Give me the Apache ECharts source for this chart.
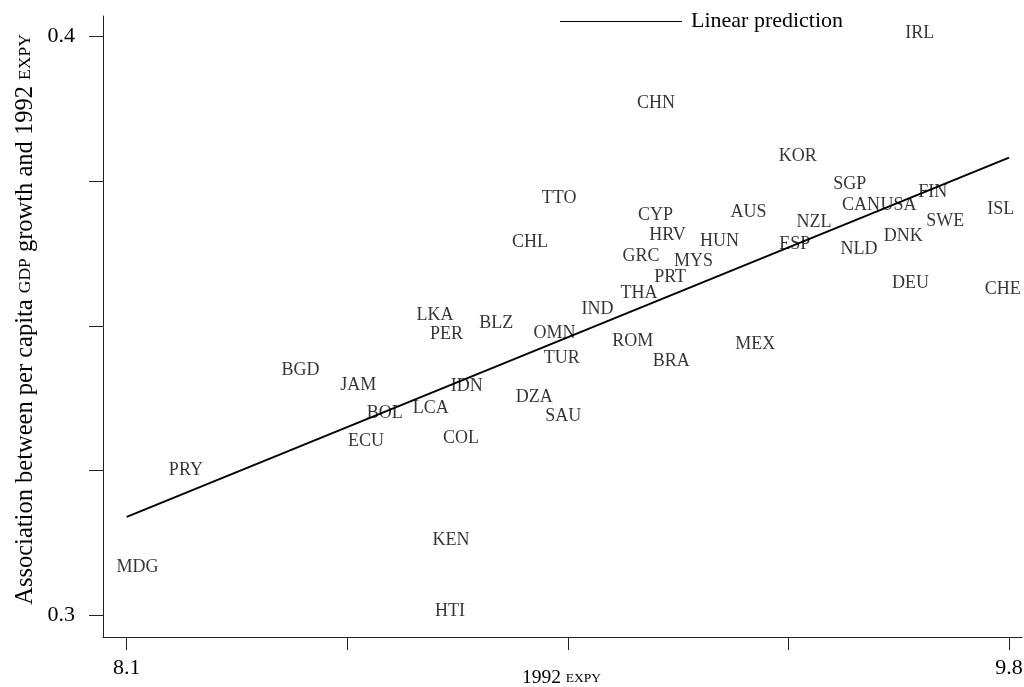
<!DOCTYPE html>
<html>
<head>
<meta charset="utf-8">
<script src="https://cdn.jsdelivr.net/npm/echarts@6/dist/echarts.min.js"></script>
<style>
html,body{margin:0;padding:0;background:#fff;}
#chart{width:1024px;height:687px;}
</style>
</head>
<body>
<div id="chart"></div>
<script>
// Country codes and values (x: 1992 EXPY, y: association coefficient)
var countries = ["IRL","CHN","KOR","SGP","FIN","TTO","CAN","USA","ISL","AUS","CYP","NZL","SWE","HRV","DNK","HUN","CHL","ESP","NLD","GRC","MYS","PRT","DEU","CHE","THA","IND","LKA","BLZ","PER","OMN","ROM","MEX","TUR","BRA","BGD","JAM","IDN","DZA","LCA","BOL","SAU","COL","ECU","PRY","KEN","MDG","HTI"];
var expy = [9.628,9.120,9.393,9.493,9.653,8.933,9.515,9.587,9.784,9.298,9.119,9.424,9.677,9.142,9.596,9.242,8.877,9.387,9.511,9.091,9.192,9.147,9.610,9.788,9.087,9.007,8.694,8.812,8.716,8.924,9.075,9.311,8.938,9.149,8.435,8.546,8.755,8.885,8.686,8.597,8.941,8.744,8.561,8.214,8.725,8.121,8.723];
var assoc = [0.4008,0.3887,0.3795,0.3747,0.3733,0.3723,0.3710,0.3710,0.3703,0.3699,0.3693,0.3681,0.3683,0.3659,0.3657,0.3648,0.3647,0.3643,0.3635,0.3623,0.3614,0.3586,0.3576,0.3566,0.3558,0.3530,0.3520,0.3507,0.3487,0.3489,0.3475,0.3471,0.3446,0.3441,0.3426,0.3399,0.3397,0.3379,0.3360,0.3351,0.3345,0.3308,0.3303,0.3253,0.3131,0.3084,0.3009];
// Linear prediction endpoints
var fitX = [8.1, 9.8];
var fitY = [0.3170, 0.3791];
// Tick values and labels
var xTicks = [8.1, 8.525, 8.95, 9.375, 9.8];
var xTickLabels = [8.1, 9.8];
var yTicks = [0.3, 0.325, 0.35, 0.375, 0.4];
var yTickLabels = [0.3, 0.4];

var font = '"Liberation Serif","DejaVu Serif",serif';
var pts = countries.map(function(c, i){ return {name: c, value: [expy[i], assoc[i]]}; });
var fit = fitX.map(function(x, i){ return [x, fitY[i]]; });

var chart = echarts.init(document.getElementById('chart'), null, {renderer: 'canvas'});
chart.setOption({
  animation: false,
  backgroundColor: '#fff',
  textStyle: {fontFamily: font},
  grid: {left: 103, right: 2, top: 16, bottom: 50, outerBoundsMode: 'none', containLabel: false},
  legend: {
    data: ['Linear prediction'],
    left: 560, top: 10.5, padding: 0,
    icon: 'rect', itemWidth: 122, itemHeight: 1,
    textStyle: {fontFamily: font, fontSize: 22, color: '#000', lineHeight: 22, padding: [0,0,0,4]}
  },
  xAxis: {
    type: 'value', min: 8.0543, max: 9.825,
    name: '1992 {s|EXPY}', nameLocation: 'middle', nameGap: 31, nameMoveOverlap: false,
    nameTextStyle: {fontFamily: font, fontSize: 19.5, color: '#000', verticalAlign: 'top', padding: [0, 2, 0, 0],
      rich: {s: {fontFamily: font, fontSize: 13.5, color: '#000'}}},
    axisLine: {show: true, onZero: false, lineStyle: {color: '#222', width: 1}},
    axisTick: {show: true, length: 13, customValues: xTicks, lineStyle: {color: '#222'}},
    axisLabel: {customValues: xTickLabels, margin: 20, fontFamily: font, fontSize: 22, color: '#000'},
    splitLine: {show: false}
  },
  yAxis: {
    type: 'value', min: 0.29625, max: 0.40358,
    name: 'Association between per capita {s|GDP} growth and 1992 {s|EXPY}',
    nameLocation: 'middle', nameGap: 65, nameMoveOverlap: false,
    nameTextStyle: {fontFamily: font, fontSize: 24.5, color: '#000', padding: [0, 0, 0, 14],
      rich: {s: {fontFamily: font, fontSize: 17.5, color: '#000'}}},
    axisLine: {show: true, onZero: false, lineStyle: {color: '#222', width: 1}},
    axisTick: {show: true, length: 14, customValues: yTicks, lineStyle: {color: '#222'}},
    axisLabel: {customValues: yTickLabels, margin: 28, fontFamily: font, fontSize: 22, color: '#000'},
    splitLine: {show: false}
  },
  series: [
    {
      type: 'scatter', name: 'countries', symbolSize: 0, data: pts, z: 2,
      label: {show: true, position: 'inside', offset: [0, 1], formatter: '{b}', fontFamily: font, fontSize: 18, color: '#000'},
      emphasis: {disabled: true}
    },
    {
      type: 'line', name: 'Linear prediction', data: fit, symbol: 'none', z: 3,
      itemStyle: {color: '#000'},
      lineStyle: {color: '#000', width: 2}
    }
  ]
});
</script>
</body>
</html>
